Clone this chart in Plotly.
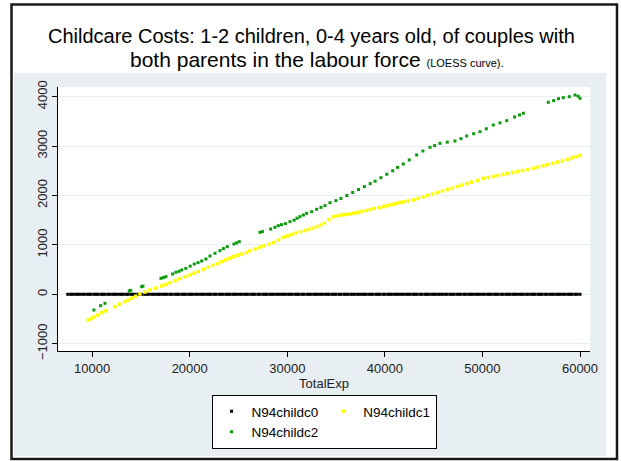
import plotly.graph_objects as go

# LOESS-smoothed childcare cost predictions against total household expenditure
# Households with no children in care (predicted cost is zero), TotalExp in thousands
c0_exp_k = [7.5, 7.8, 8.0, 8.3, 8.5, 8.7, 9.0, 9.2, 9.5, 9.7, 9.9, 10.2, 10.4, 10.6, 10.9,
            11.1, 11.3, 11.6, 11.8, 12.1, 12.3, 12.5, 12.8, 13.0, 13.2, 13.5, 13.7, 14.0,
            14.2, 14.4, 14.7, 14.9, 15.1, 15.4, 15.6, 15.8, 16.1, 16.3, 16.6, 16.8, 17.0,
            17.3, 17.5, 17.7, 18.0, 18.2, 18.5, 18.7, 18.9, 19.2, 19.4, 19.6, 19.9, 20.1,
            20.3, 20.6, 20.8, 21.1, 21.3, 21.5, 21.8, 22.0, 22.2, 22.5, 22.7, 23.0, 23.2,
            23.4, 23.7, 23.9, 24.1, 24.4, 24.6, 24.8, 25.1, 25.3, 25.6, 25.8, 26.0, 26.3,
            26.5, 26.7, 27.0, 27.2, 27.5, 27.7, 27.9, 28.2, 28.4, 28.6, 28.9, 29.1, 29.4,
            29.6, 29.8, 30.1, 30.3, 30.5, 30.8, 31.0, 31.2, 31.5, 31.7, 32.0, 32.2, 32.4,
            32.7, 32.9, 33.1, 33.4, 33.6, 33.9, 34.1, 34.3, 34.6, 34.8, 35.0, 35.3, 35.5,
            35.8, 36.0, 36.2, 36.5, 36.7, 36.9, 37.2, 37.4, 37.7, 37.9, 38.1, 38.4, 38.6,
            38.8, 39.1, 39.3, 39.5, 39.8, 40.0, 40.3, 40.5, 40.7, 41.0, 41.2, 41.4, 41.7,
            41.9, 42.2, 42.4, 42.6, 42.9, 43.1, 43.3, 43.6, 43.8, 44.1, 44.3, 44.5, 44.8,
            45.0, 45.2, 45.5, 45.7, 45.9, 46.2, 46.4, 46.7, 46.9, 47.1, 47.4, 47.6, 47.8,
            48.1, 48.3, 48.6, 48.8, 49.0, 49.3, 49.5, 49.7, 50.0, 50.2, 50.5, 50.7, 50.9,
            51.2, 51.4, 51.6, 51.9, 52.1, 52.4, 52.6, 52.8, 53.1, 53.3, 53.5, 53.8, 54.0,
            54.2, 54.5, 54.7, 55.0, 55.2, 55.4, 55.7, 55.9, 56.1, 56.4, 56.6, 56.9, 57.1,
            57.3, 57.6, 57.8, 58.0, 58.3, 58.5, 58.8, 59.0, 59.2, 59.5, 59.7, 60.0]
c0_cost = [0] * len(c0_exp_k)

# One child in care
c1_exp = [9600, 9850, 10113, 10550, 10974, 11400, 12337, 12800, 13362, 13700, 14049,
          14450, 14900, 15400, 15925, 16500, 17124, 17550, 17975, 18500, 19000, 19500,
          20025, 20450, 20875, 21400, 21900, 22350, 22800, 23274, 23700, 24100, 24463,
          24900, 25350, 25836, 26175, 26700, 27200, 27600, 28100, 28563, 29100, 29588,
          30000, 30450, 30900, 31350, 31800, 32200, 32600, 33011, 33400, 33800, 34250,
          34713, 35200, 35600, 36000, 36375, 36800, 37200, 37650, 38100, 38500, 38900,
          39400, 39838, 40300, 40700, 41100, 41500, 41900, 42400, 42913, 43400, 43900,
          44400, 44900, 45400, 45900, 46400, 46900, 47400, 47900, 48400, 48900, 49500,
          50088, 50600, 51100, 51600, 52100, 52600, 53100, 53600, 54100, 54600, 55213,
          55700, 56200, 56700, 57200, 57700, 58200, 58700, 59200, 59600, 60000]
c1_cost = [-520, -498, -466, -420, -372, -335, -251, -200, -149, -115, -81,
           -40, 6, 45, 87, 125, 168, 200, 235, 275, 316, 355,
           391, 425, 458, 505, 547, 585, 620, 660, 695, 730, 761,
           790, 815, 842, 883, 915, 951, 980, 1012, 1045, 1100, 1154,
           1180, 1210, 1240, 1265, 1290, 1315, 1340, 1368, 1400, 1440, 1510,
           1571, 1590, 1605, 1615, 1625, 1640, 1655, 1675, 1695, 1715, 1735,
           1752, 1773, 1795, 1815, 1835, 1855, 1870, 1890, 1909, 1940, 1970,
           2000, 2030, 2060, 2090, 2120, 2150, 2180, 2210, 2240, 2270, 2305,
           2348, 2365, 2385, 2405, 2425, 2445, 2465, 2485, 2505, 2525, 2551,
           2575, 2600, 2625, 2650, 2675, 2700, 2730, 2760, 2785, 2806]

# Two children in care
c2_exp = [10185, 10871, 11312, 13803, 13950, 15074, 15200, 17052, 17300, 17565, 18251,
          18590, 18900, 19174, 19600, 20050, 20465, 20850, 21224, 21665, 22075, 22587,
          23100, 23450, 23848, 24535, 24800, 25078, 27200, 27450, 28300, 28737, 29075,
          29400, 29800, 30275, 30700, 31000, 31300, 31650, 31986, 32499, 33011, 33450,
          33862, 34375, 34990, 35500, 36100, 36700, 37300, 37900, 38500, 39000, 39600,
          40200, 40800, 41300, 41888, 42500, 43261, 43900, 44625, 45100, 45650, 46400,
          47187, 47800, 48386, 49100, 49750, 50400, 51113, 51800, 52486, 53300, 53800,
          54188, 56750, 57300, 57800, 58288, 58900, 59487, 59800, 60000]
c2_cost = [-318, -230, -183, 67, 80, 154, 165, 323, 338, 357, 411,
           445, 465, 492, 525, 570, 613, 640, 674, 714, 775, 830,
           883, 925, 964, 1018, 1040, 1065, 1255, 1268, 1320, 1356, 1389,
           1410, 1430, 1470, 1500, 1540, 1571, 1605, 1640, 1672, 1721, 1760,
           1794, 1854, 1895, 1940, 2000, 2060, 2120, 2180, 2240, 2290, 2360,
           2430, 2500, 2570, 2637, 2720, 2820, 2900, 2975, 3010, 3056, 3080,
           3103, 3150, 3204, 3250, 3291, 3350, 3427, 3470, 3514, 3590, 3630,
           3664, 3887, 3920, 3960, 3980, 4000, 4034, 4010, 3967]

x_ticks = [10000, 20000, 30000, 40000, 50000, 60000]
y_ticks = [-1000, 0, 1000, 2000, 3000, 4000]
x_range = [6500, 61025]
y_range = [-1148, 4196]

W, H = 621, 461
ML, MR, MT, MB = 58, 31, 87, 110
PW, PH = W - ML - MR, H - MT - MB


def px_x(px):
    return (px - ML) / PW


def px_y(py):
    return (H - MB - py) / PH


FONT = "Liberation Sans, Arial, Helvetica, sans-serif"

fig = go.Figure()
fig.add_trace(go.Scatter(
    x=[v * 1000 for v in c0_exp_k], y=c0_cost, mode="markers", name="N94childc0",
    legendgroup="a", marker=dict(symbol="square", size=3, color="#000000", line_width=0)))
fig.add_trace(go.Scatter(
    x=c1_exp, y=c1_cost, mode="markers", name="N94childc1",
    legendgroup="b", marker=dict(symbol="square", size=3.5, color="#ffff00", line_width=0)))
fig.add_trace(go.Scatter(
    x=c2_exp, y=c2_cost, mode="markers", name="N94childc2",
    legendgroup="a", marker=dict(symbol="square", size=3, color="#0a9a0a", line_width=0)))

shapes = [
    # light backdrop around the plot region
    dict(type="rect", xref="paper", yref="paper", layer="below",
         x0=px_x(14), x1=px_x(606), y0=px_y(456), y1=px_y(73),
         fillcolor="#e8eff2", line_width=0),
    # white plot region
    dict(type="rect", xref="paper", yref="paper", layer="below",
         x0=0, x1=1, y0=0, y1=1, fillcolor="#ffffff", line_width=0),
    # outer frame
    dict(type="rect", xref="paper", yref="paper", layer="above",
         x0=px_x(11.5), x1=px_x(617), y0=px_y(459), y1=px_y(4.5),
         line=dict(color="#1a1a1a", width=2.5), fillcolor="rgba(0,0,0,0)"),
]

annotations = [
    dict(text="Childcare Costs: 1-2 children, 0-4 years old, of couples with",
         xref="paper", yref="paper", x=px_x(311), y=px_y(36),
         xanchor="center", yanchor="middle", showarrow=False,
         font=dict(family=FONT, size=20, color="#000000")),
    dict(text="both parents in the labour force <span style='font-size:11px'>(LOESS curve).</span>",
         xref="paper", yref="paper", x=px_x(317), y=px_y(59),
         xanchor="center", yanchor="middle", showarrow=False,
         font=dict(family=FONT, size=21, color="#000000")),
]

fig.update_layout(
    width=W, height=H,
    margin=dict(l=ML, r=MR, t=MT, b=MB),
    paper_bgcolor="#ffffff", plot_bgcolor="rgba(0,0,0,0)",
    font=dict(family=FONT, size=13, color="#222222"),
    shapes=shapes, annotations=annotations,
    showlegend=True,
    legend=dict(orientation="h", traceorder="grouped",
                x=0.5, xanchor="center", y=px_y(395), yanchor="top",
                bgcolor="#ffffff", bordercolor="#000000", borderwidth=1,
                font=dict(family=FONT, size=13.5, color="#000000"),
                itemwidth=30, tracegroupgap=0),
    xaxis=dict(range=x_range, tickvals=x_ticks, tickformat="d",
               ticks="outside", ticklen=5, tickcolor="#000000",
               showline=True, linecolor="#000000", linewidth=1,
               showgrid=False, zeroline=False,
               tickfont=dict(size=13, color="#222222"),
               title=dict(text="TotalExp", font=dict(size=13, color="#222222"), standoff=2)),
    yaxis=dict(range=y_range, tickvals=y_ticks, tickformat="d", tickangle=-90,
               ticks="outside", ticklen=5, tickcolor="#000000",
               showline=True, linecolor="#000000", linewidth=1,
               showgrid=True, gridcolor="#e6eef1", gridwidth=1, zeroline=False,
               tickfont=dict(size=13, color="#222222")),
)

fig.write_html("out.html")
